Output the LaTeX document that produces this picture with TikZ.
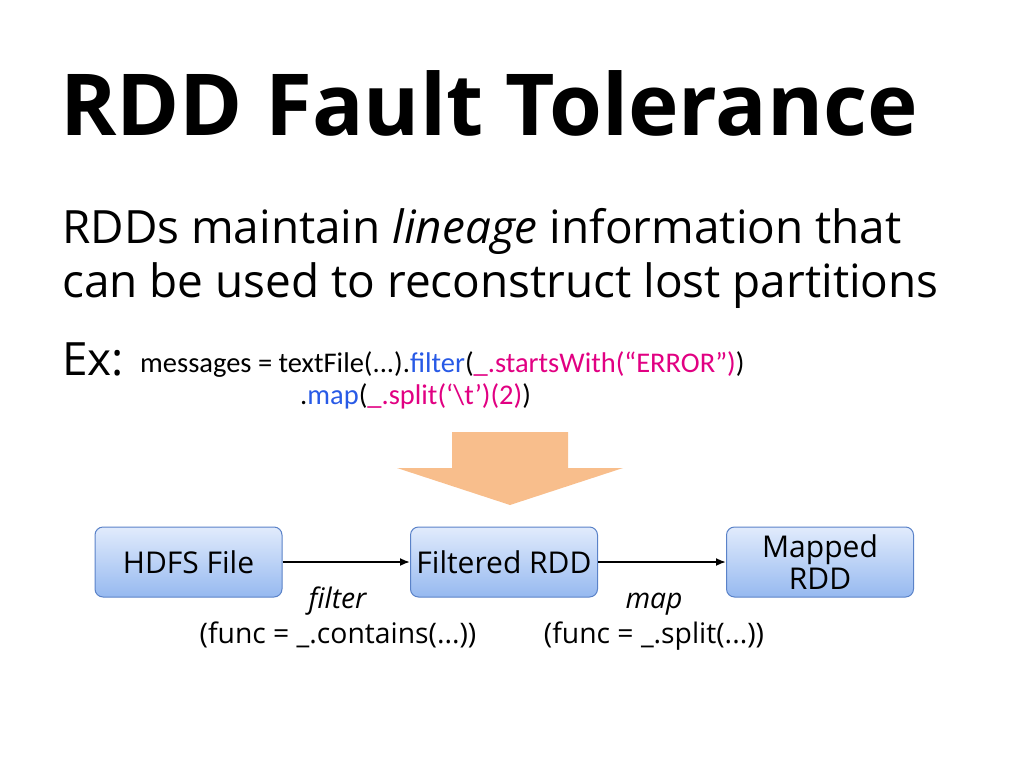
\documentclass[tikz,border=0pt]{standalone}
\usetikzlibrary{arrows.meta}
\usepackage{fontspec}
\setmainfont{Open Sans}
\newfontfamily\codef{Carlito}
\definecolor{kw}{RGB}{40,90,230}
\definecolor{mg}{RGB}{225,0,130}
\definecolor{boxtop}{RGB}{225,235,252}
\definecolor{boxbot}{RGB}{150,185,240}
\definecolor{boxdraw}{RGB}{90,130,200}
\definecolor{orng}{RGB}{248,190,140}
\begin{document}
\begin{tikzpicture}[x=1pt,y=-1pt,
  box/.style={draw=boxdraw,line width=1pt,rounded corners=8pt,top color=boxtop,bottom color=boxbot,minimum width=187pt,minimum height=70pt,inner sep=0pt,align=center,font=\fontsize{30}{34}\selectfont},
  lab/.style={font=\fontsize{28.3}{32}\selectfont,inner sep=0pt},
  conn/.style={-{Latex[length=10pt,width=8pt]},line width=1.8pt}]
\useasboundingbox (0,0) rectangle (1024,768);
\node[anchor=base west,inner sep=0pt,font=\fontsize{85.5}{90}\bfseries\selectfont] (title) at (60,135) {RDD Fault Tolerance};
\node[anchor=base west,inner sep=0pt,font=\fontsize{45.9}{55}\selectfont] (l1) at (62,243) {RDDs maintain \textit{lineage} information that};
\node[anchor=base west,inner sep=0pt,font=\fontsize{45.9}{55}\selectfont] (l2) at (62,297) {can be used to reconstruct lost partitions};
\node[anchor=base west,inner sep=0pt,font=\fontsize{45.9}{55}\selectfont] (ex) at (62,375) {Ex:};
\node[anchor=base west,inner sep=0pt,font=\codef\fontsize{28.5}{30}\selectfont] (c1) at (140,372) {messages = textFile(...).\textcolor{kw}{filter}(\textcolor{mg}{\_.startsWith(“ERROR”)})};
\node[anchor=base west,inner sep=0pt,font=\codef\fontsize{28.5}{30}\selectfont] (c2) at (300,404) {.\textcolor{kw}{map}(\textcolor{mg}{\_.split(‘\textbackslash t’)(2)})};
\fill[orng] (452,432) -- (568,432) -- (568,468) -- (623,468) -- (510,505) -- (397,468) -- (452,468) -- cycle;
\node[box] (hdfs) at (188.5,562) {HDFS File};
\node[box] (filt) at (504,562) {Filtered RDD};
\node[box] (mapd) at (820,562) {Mapped\\[-2pt]RDD};
\draw[conn] (hdfs) -- (filt);
\draw[conn] (filt) -- (mapd);
\node[lab,anchor=base] (f1) at (338,608) {\textit{filter}};
\node[lab,anchor=base] (f2) at (338,643) {(func = \_.contains(...))};
\node[lab,anchor=base] (m1) at (654,608) {\textit{map}};
\node[lab,anchor=base] (m2) at (654,643) {(func = \_.split(...))};
\end{tikzpicture}
\end{document}
